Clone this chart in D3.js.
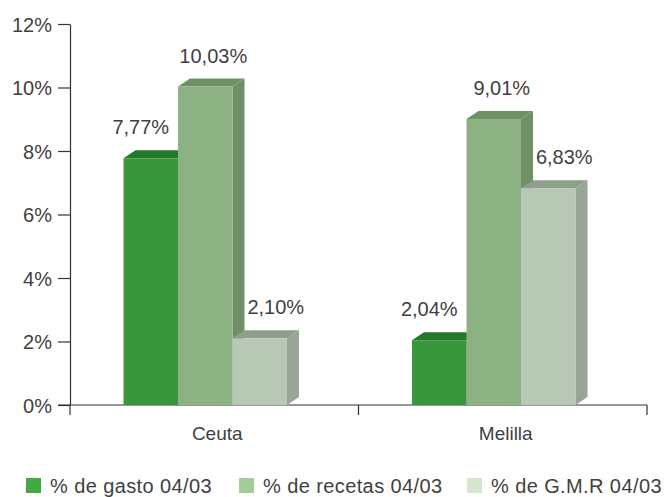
<!DOCTYPE html>
<html>
<head>
<meta charset="utf-8">
<script src="https://cdn.jsdelivr.net/npm/d3@7"></script>
<style>
    body { margin: 0; background: #fff; }
    text { font-family: "Liberation Sans", Arial, sans-serif; fill: #3f3f3f; }
</style>
</head>
<body>
<div id="chart"></div>
<script>
var categories = ["Ceuta", "Melilla"];
var seriesNames = ["% de gasto 04/03", "% de recetas 04/03", "% de G.M.R 04/03"];
var gasto = [7.77, 2.04];
var recetas = [10.03, 9.01];
var gmr = [2.10, 6.83];
var yTicks = [0, 2, 4, 6, 8, 10, 12];

var seriesValues = [gasto, recetas, gmr];
var frontColors = ["#3a963a", "#8cb283", "#b7c9b4"];
var topColors = ["#24782a", "#6f9067", "#8e9f8c"];
var sideColors = ["#2a7a2e", "#6f9067", "#97a695"];
var legendColors = ["#44a844", "#a3cd97", "#d4e6cf"];
var labelShift = [-10, 8, 16];

var width = 667, height = 497;
var depthX = 12, depthY = 8;

var svg = d3.select("#chart").append("svg")
    .attr("width", width)
    .attr("height", height);

var y = d3.scaleLinear().domain([0, 12]).range([405, 24]);
var x0 = d3.scaleBand().domain(categories).range([70, 647]);
var groupWidth = 163.5;
var x1 = d3.scaleBand().domain(d3.range(seriesNames.length)).range([0, groupWidth]);
var groupOffset = (x0.bandwidth() - groupWidth) / 2 - 9;

// y axis
var yAxis = svg.append("g")
    .attr("transform", "translate(70,0)")
    .call(d3.axisLeft(y).tickValues(yTicks).tickSize(12).tickSizeOuter(0).tickPadding(6)
        .tickFormat(function (d) { return d + "%"; }));
yAxis.selectAll("text").attr("font-size", "20px").attr("font-family", null).attr("dy", "0.36em");
yAxis.selectAll("line, path").attr("stroke", "#333").attr("stroke-width", 1.2);

// x axis
var baseY = y(0);
svg.append("line")
    .attr("x1", 58).attr("x2", x0.range()[1])
    .attr("y1", baseY).attr("y2", baseY)
    .attr("stroke", "#333").attr("stroke-width", 1.2);
var edges = categories.map(function (c) { return x0(c); }).concat([x0.range()[1]]);
svg.selectAll(".xtick").data(edges).enter().append("line")
    .attr("class", "xtick")
    .attr("x1", function (d) { return d; }).attr("x2", function (d) { return d; })
    .attr("y1", baseY).attr("y2", baseY + 10)
    .attr("stroke", "#333").attr("stroke-width", 1.2);
svg.selectAll(".xlabel").data(categories).enter().append("text")
    .attr("class", "xlabel")
    .attr("x", function (c) { return x0(c) + x0.bandwidth() / 2 + 3; })
    .attr("y", 440)
    .attr("text-anchor", "middle")
    .attr("font-size", "19px")
    .text(function (c) { return c; });

// 3D bars
var bw = x1.bandwidth();
categories.forEach(function (cat, ci) {
    var g = svg.append("g").attr("class", "group");
    seriesValues.forEach(function (vals, si) {
        var v = vals[ci];
        var left = x0(cat) + groupOffset + x1(si);
        var right = left + bw;
        var top = y(v);
        g.append("path")
            .attr("d", "M" + right + "," + baseY + "L" + (right + depthX) + "," + (baseY - depthY) +
                "L" + (right + depthX) + "," + (top - depthY) + "L" + right + "," + top + "Z")
            .attr("fill", sideColors[si]);
        g.append("path")
            .attr("d", "M" + left + "," + top + "L" + (left + depthX) + "," + (top - depthY) +
                "L" + (right + depthX) + "," + (top - depthY) + "L" + right + "," + top + "Z")
            .attr("fill", topColors[si]);
        g.append("rect")
            .attr("x", left).attr("y", top)
            .attr("width", bw).attr("height", baseY - top)
            .attr("fill", frontColors[si]);
        g.append("text")
            .attr("x", left + bw / 2 + labelShift[si])
            .attr("y", top - 24)
            .attr("text-anchor", "middle")
            .attr("font-size", "20px")
            .text(d3.format(".2f")(v).replace(".", ",") + "%");
    });
});

// legend
var legendX = [26, 239, 467];
var legend = svg.selectAll(".legendItem").data(seriesNames).enter().append("g")
    .attr("class", "legendItem")
    .attr("transform", function (d, i) { return "translate(" + legendX[i] + ",478)"; });
legend.append("rect")
    .attr("width", 15).attr("height", 15)
    .attr("fill", function (d, i) { return legendColors[i]; });
legend.append("text")
    .attr("x", 24).attr("y", 15)
    .attr("font-size", "20px")
    .attr("letter-spacing", "0.4px")
    .text(function (d) { return d; });
</script>
</body>
</html>
